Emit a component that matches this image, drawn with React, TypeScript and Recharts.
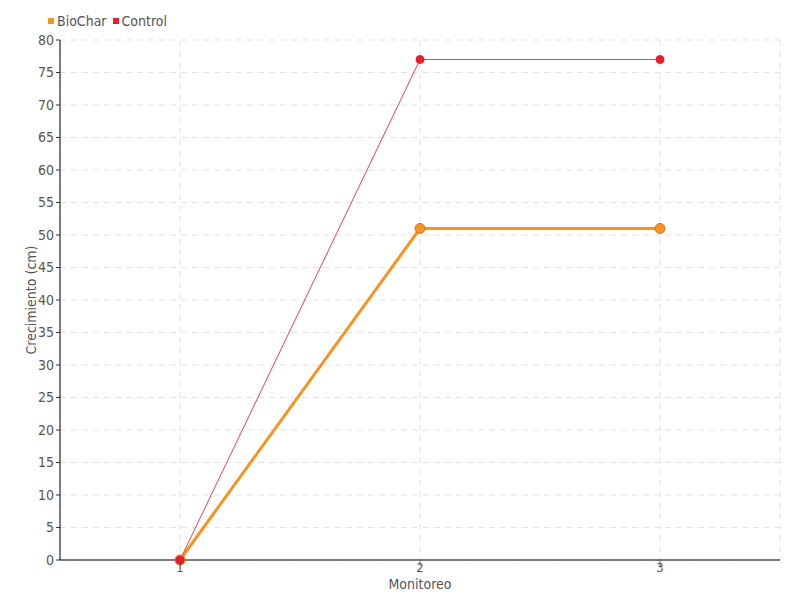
import { LineChart, Line, XAxis, YAxis, CartesianGrid, Legend } from 'recharts';

const monitoreo = ['1', '2', '3'];
const biochar = [0, 51, 51];
const control = [0, 77, 77];
const yTicks = [0, 5, 10, 15, 20, 25, 30, 35, 40, 45, 50, 55, 60, 65, 70, 75, 80];

const ORANGE = '#f7931e';
const RED = '#ea1c2d';
const FONT = '"DejaVu Sans Condensed", "Liberation Sans Narrow", sans-serif';

const data = monitoreo.map((m, i) => ({ name: m, BioChar: biochar[i], Control: control[i] }));

function LegendBox() {
  const items = [{ label: 'BioChar', color: ORANGE }, { label: 'Control', color: RED }];
  return (
    <div style={{ display: 'flex', gap: 6, fontFamily: FONT, fontSize: 14, color: '#555', height: 18 }}>
      {items.map(it => (
        <span key={it.label} style={{ display: 'flex', alignItems: 'center' }}>
          <span style={{ width: 6, height: 6, background: it.color, display: 'inline-block', marginRight: 3 }} />
          {it.label}
        </span>
      ))}
    </div>
  );
}

export default function App() {
  return (
    <div style={{ position: 'absolute', left: 0, top: 0, background: '#fff' }}>
      <LineChart width={800} height={600} data={data} margin={{ top: 22, right: 20, bottom: 0, left: 0 }}>
        <CartesianGrid stroke="#e2e2e2" strokeDasharray="6 5" />
        <XAxis
          dataKey="name"
          padding={{ left: 120, right: 120 }}
          axisLine={{ stroke: '#000' }}
          tickLine={{ stroke: '#666' }}
          tick={{ fill: '#555', fontSize: 13, fontFamily: FONT, dy: -5 }}
          height={40}
          label={{ value: 'Monitoreo', position: 'insideBottom', offset: 11, fill: '#555', fontSize: 14, fontFamily: FONT }}
        />
        <YAxis
          domain={[0, 80]}
          ticks={yTicks}
          interval={0}
          axisLine={{ stroke: '#000' }}
          tickLine={{ stroke: '#333' }}
          tickSize={4}
          tick={{ fill: '#555', fontSize: 14, fontFamily: FONT }}
          width={60}
          label={{ value: 'Crecimiento (cm)', angle: -90, position: 'insideLeft', offset: 31, style: { textAnchor: 'middle' }, fill: '#555', fontSize: 14, fontFamily: FONT }}
        />
        <Legend verticalAlign="top" align="left" content={<LegendBox />} wrapperStyle={{ top: 12, left: 48 }} />
        <Line dataKey="BioChar" stroke={ORANGE} strokeWidth={3} dot={{ r: 5, fill: ORANGE, stroke: '#d9731a', strokeWidth: 1 }} isAnimationActive={false} />
        <Line dataKey="Control" stroke="#f03e52" strokeWidth={1} dot={{ r: 4, fill: RED, stroke: RED, strokeWidth: 1 }} isAnimationActive={false} />
      </LineChart>
    </div>
  );
}
